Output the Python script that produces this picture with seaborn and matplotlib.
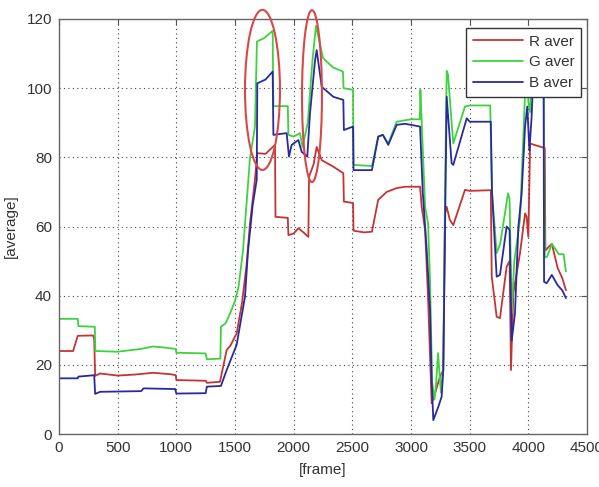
import numpy as np
import pandas as pd
import matplotlib
matplotlib.use("Agg")
import matplotlib.pyplot as plt
from matplotlib.patches import Ellipse
import seaborn as sns

# ── Data ──────────────────────────────────────────────────────────────────────
r_frame = [0, 120, 160, 290, 300, 308, 350, 500, 650, 800, 950, 995, 1000, 1250,
           1260, 1372, 1429, 1460, 1514, 1560, 1600, 1628, 1670, 1690, 1760, 1800,
           1841, 1845, 1950, 1955, 2000, 2040, 2080, 2125, 2131, 2170, 2196, 2239,
           2290, 2338, 2423, 2428, 2506, 2510, 2600, 2667, 2720, 2793, 2878, 2950,
           3077, 3091, 3120, 3145, 3176, 3205, 3247, 3275, 3290, 3304, 3330, 3360,
           3460, 3500, 3680, 3688, 3730, 3758, 3815, 3840, 3852, 3872, 3929, 3972,
           3985, 4000, 4015, 4080, 4140, 4145, 4170, 4200, 4250, 4290, 4320]
r_val = [24.0, 24.0, 28.4, 28.5, 27.5, 16.8, 17.5, 16.9, 17.2, 17.7, 17.3, 17.0, 15.6,
         15.4, 14.8, 15.1, 24.3, 25.5, 29.1, 38.0, 49.4, 61.0, 73.5, 81.2, 81.0, 82.3,
         83.6, 62.8, 62.5, 57.5, 58.0, 59.5, 58.4, 57.0, 74.4, 78.0, 83.0, 79.2, 78.2,
         77.3, 75.4, 67.2, 66.8, 58.8, 58.3, 58.5, 67.7, 70.0, 71.1, 71.5, 71.5, 65.7,
         59.0, 39.7, 8.9, 11.8, 16.6, 18.5, 63.8, 65.7, 62.0, 60.4, 70.6, 70.3, 70.5,
         45.5, 33.9, 33.5, 48.4, 50.0, 18.5, 40.7, 52.3, 63.8, 62.8, 57.0, 84.0, 83.3,
         82.7, 53.0, 54.0, 55.0, 48.0, 45.0, 41.6]

g_frame = [0, 160, 165, 305, 310, 500, 700, 800, 900, 995, 1000, 1250, 1260, 1375,
           1380, 1420, 1460, 1500, 1530, 1568, 1628, 1670, 1687, 1750, 1821, 1827,
           1950, 1955, 2000, 2054, 2075, 2120, 2160, 2190, 2250, 2335, 2420, 2425,
           2506, 2510, 2667, 2720, 2760, 2806, 2878, 3000, 3075, 3080, 3120, 3145,
           3162, 3180, 3200, 3215, 3230, 3255, 3275, 3290, 3304, 3315, 3360, 3460,
           3500, 3675, 3690, 3730, 3760, 3827, 3840, 3858, 3880, 3929, 3950, 3972,
           3990, 4000, 4015, 4030, 4130, 4140, 4160, 4200, 4260, 4300, 4320]
g_val = [33.3, 33.3, 31.2, 31.0, 24.0, 23.8, 24.6, 25.3, 25.0, 24.6, 23.5, 23.3, 21.6,
         21.8, 31.0, 32.0, 35.0, 38.5, 42.5, 53.0, 80.0, 88.8, 113.5, 114.5, 116.6,
         94.8, 94.8, 86.5, 86.0, 87.0, 83.0, 90.0, 108.0, 118.0, 108.7, 106.0, 104.8,
         100.0, 99.5, 77.8, 77.5, 86.0, 86.5, 84.0, 90.3, 91.0, 91.0, 99.5, 65.7, 61.0,
         44.5, 15.0, 10.0, 15.0, 23.4, 12.0, 20.0, 70.0, 105.0, 104.0, 84.0, 94.7, 95.0,
         95.0, 70.0, 52.3, 55.0, 69.6, 68.0, 35.0, 50.0, 62.0, 80.0, 98.5, 108.0, 96.0,
         93.0, 106.0, 106.0, 51.0, 51.3, 55.0, 52.0, 52.0, 47.0]

b_frame = [0, 160, 165, 300, 308, 350, 700, 720, 990, 1000, 1250, 1260, 1380, 1429,
           1514, 1585, 1611, 1650, 1685, 1690, 1760, 1821, 1827, 1940, 1960, 1983,
           2040, 2068, 2116, 2139, 2182, 2196, 2239, 2338, 2423, 2428, 2506, 2510,
           2667, 2721, 2760, 2806, 2878, 2950, 3077, 3100, 3134, 3162, 3176, 3190,
           3233, 3261, 3275, 3304, 3346, 3360, 3475, 3500, 3680, 3690, 3730, 3758,
           3815, 3840, 3858, 3886, 3915, 3943, 3972, 3991, 4009, 4028, 4040, 4130,
           4134, 4156, 4200, 4250, 4290, 4320]
b_val = [16.1, 16.1, 16.6, 17.0, 11.6, 12.2, 12.4, 13.2, 13.0, 11.7, 11.8, 13.7, 13.9,
         18.5, 25.8, 39.7, 53.0, 66.0, 73.5, 101.4, 102.5, 104.8, 86.5, 87.0, 80.2,
         83.6, 85.0, 81.6, 80.2, 92.7, 108.0, 111.0, 100.4, 97.5, 96.6, 87.9, 88.9,
         76.3, 76.3, 86.0, 86.5, 83.6, 89.4, 89.7, 88.9, 70.0, 53.0, 35.9, 15.6, 4.0,
         7.9, 10.8, 18.5, 97.5, 78.3, 77.8, 91.3, 90.3, 90.3, 70.0, 45.5, 46.0, 60.0,
         59.0, 27.0, 34.9, 60.0, 69.6, 88.9, 94.7, 82.0, 91.8, 102.0, 102.0, 44.0, 43.6,
         46.0, 43.0, 41.5, 39.3]

channels = ["R aver", "G aver", "B aver"]
colors = ["#c43434", "#3ed23e", "#2a2aa0"]

# Highlight ellipses: (centre frame, centre value, width frames, height value)
ellipses = [(1734, 99.5, 298, 46.3), (2156, 97.7, 170, 49.7)]

# ── Long-form table ──────────────────────────────────────────────────────────
df = pd.concat([
    pd.DataFrame({"frame": r_frame, "value": r_val, "channel": channels[0]}),
    pd.DataFrame({"frame": g_frame, "value": g_val, "channel": channels[1]}),
    pd.DataFrame({"frame": b_frame, "value": b_val, "channel": channels[2]}),
], ignore_index=True)

# ── Plot ─────────────────────────────────────────────────────────────────────
sns.set_style("white")
plt.rcParams["font.family"] = ["Liberation Sans", "DejaVu Sans"]

fig = plt.figure(figsize=(5.99, 4.87), dpi=100)
ax = fig.add_axes([0.0985, 0.1088, 0.8815, 0.8522])

sns.lineplot(data=df, x="frame", y="value", hue="channel", hue_order=channels,
             palette=colors, estimator=None, sort=False, linewidth=1.3, ax=ax)

for cx, cy, w, h in ellipses:
    ax.add_patch(Ellipse((cx, cy), w, h, fill=False, edgecolor="#d84848",
                         linewidth=1.5, clip_on=False, zorder=5))

ax.set_xlim(0, 4500)
ax.set_ylim(0, 120)
ax.set_xticks(np.arange(0, 4501, 500))
ax.set_yticks(np.arange(0, 121, 20))
ax.grid(True, linestyle=(0, (1, 3)), color="#444444", linewidth=0.8)
ax.tick_params(direction="in", top=True, right=True, length=4, width=0.8,
               labelsize=11, labelcolor="#333333", color="#555555", pad=5)
for s in ax.spines.values():
    s.set_color("#666666")
    s.set_linewidth(1.0)

ax.set_xlabel("[frame]", fontsize=11, color="#333333", labelpad=6)
ax.set_ylabel("[average]", fontsize=11, color="#333333", labelpad=6)

handles, labels = ax.get_legend_handles_labels()
leg = ax.legend(handles, labels, loc="upper right", bbox_to_anchor=(0.989, 0.979),
                borderaxespad=0, fancybox=False, framealpha=1, edgecolor="#333333",
                fontsize=11, handlelength=3.3, handletextpad=0.35,
                labelspacing=0.45, borderpad=0.45)
leg.set_zorder(10)
for t in leg.get_texts():
    t.set_color("#333333")

fig.savefig("out.png", dpi=100)
